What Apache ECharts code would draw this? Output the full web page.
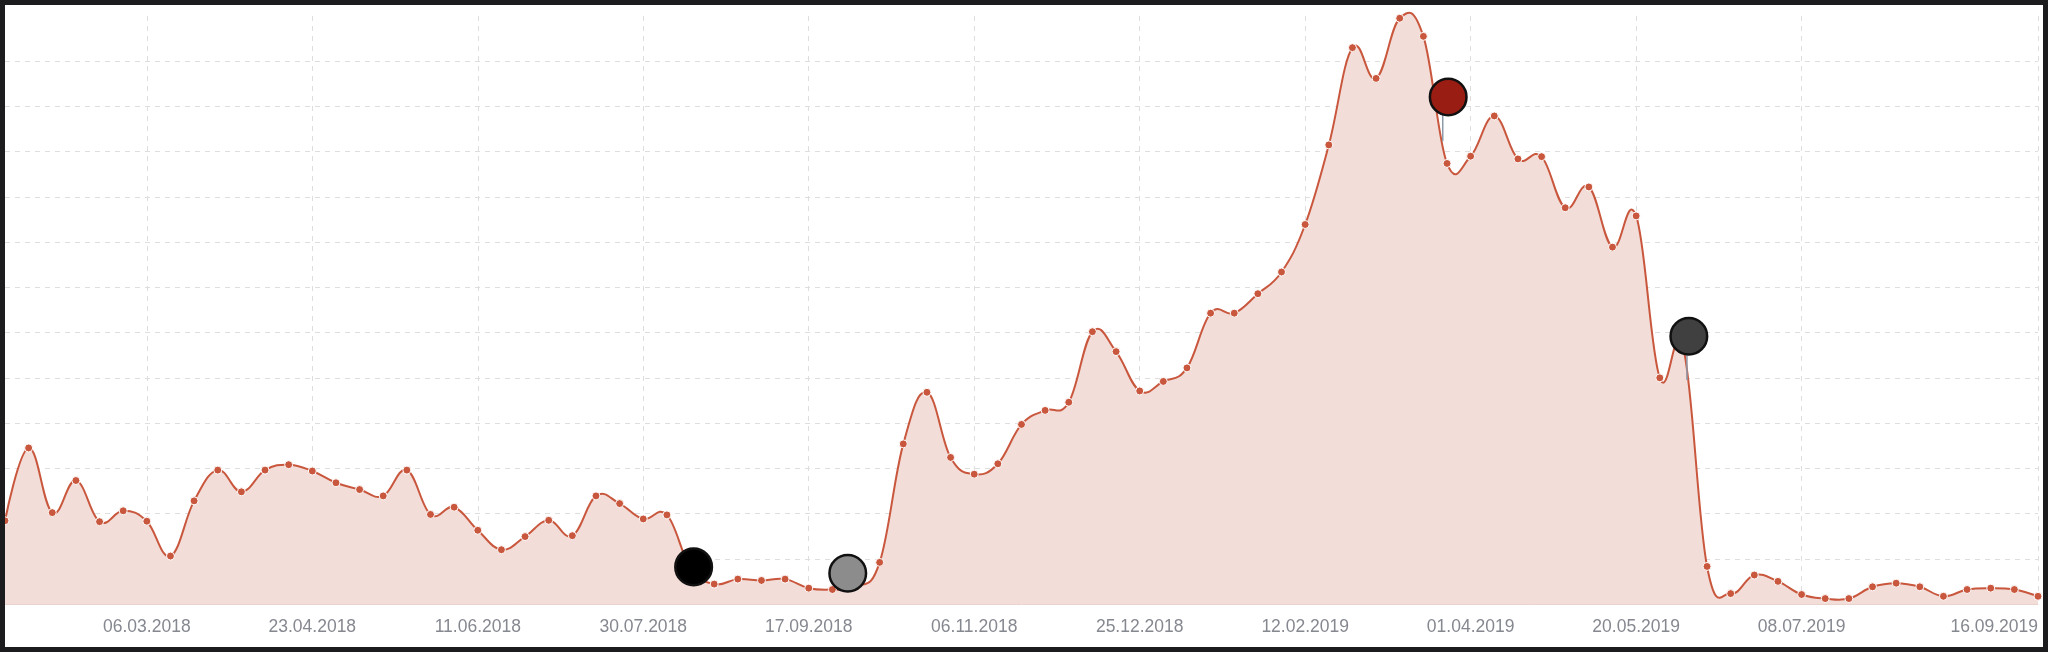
<!DOCTYPE html>
<html>
<head>
<meta charset="utf-8">
<script src="https://cdn.jsdelivr.net/npm/echarts@6/dist/echarts.min.js"></script>
<style>
html,body{margin:0;padding:0;background:#fff;}
#chart{width:2048px;height:652px;}
</style>
</head>
<body>
<div id="chart"></div>
<script>
// weekly values (arbitrary units, one per point)
const values = [
  1.84, 3.45, 2.02, 2.73, 1.82, 2.06, 1.83, 1.06, 2.28, 2.96,
  2.48, 2.96, 3.08, 2.94, 2.68, 2.53, 2.39, 2.96, 1.98, 2.14,
  1.63, 1.20, 1.49, 1.85, 1.51, 2.39, 2.22, 1.88, 1.97, 0.80,
  0.44, 0.55, 0.52, 0.55, 0.35, 0.32, 0.38, 0.92, 3.54, 4.68,
  3.24, 2.87, 3.10, 3.97, 4.28, 4.46, 6.02, 5.58, 4.71, 4.92,
  5.22, 6.43, 6.43, 6.86, 7.34, 8.39, 10.15, 12.30, 11.62, 12.95,
  12.55, 9.74, 9.90, 10.79, 9.84, 9.89, 8.76, 9.22, 7.89, 8.58,
  5.00, 5.65, 0.83, 0.23, 0.64, 0.50, 0.21, 0.12, 0.12, 0.38,
  0.46, 0.38, 0.17, 0.32, 0.35, 0.32, 0.17
];
// labelled points on the date axis
const tickIndex = [6, 13, 20, 27, 34, 41, 48, 55, 62, 69, 76, 86];
const tickLabels = ['06.03.2018','23.04.2018','11.06.2018','30.07.2018','17.09.2018','06.11.2018',
                    '25.12.2018','12.02.2019','01.04.2019','20.05.2019','08.07.2019','16.09.2019'];
// event markers (position in point index / value units)
const markerX = [29.13, 35.65, 61.05, 71.23];
const markerY = [0.82, 0.68, 11.21, 5.92];
const markerTipX = [null, null, 60.82, 71.15];
const markerTipY = [null, null, 10.23, 4.95];
const markerColors = ['#000000', '#8c8c8c', '#9a1d13', '#404040'];

const LINE = '#c9573d';
const AREA = '#f2ddd8';

const categories = values.map(function (v, i) {
  const k = tickIndex.indexOf(i);
  return k >= 0 ? tickLabels[k] : '';
});
const isTick = function (i) { return tickIndex.indexOf(i) >= 0; };
const markerData = markerX.map(function (x, i) { return [x, markerY[i]]; });

// spline path (cardinal style, smoothing 1.5 / 2.5) built from scaled points
function splinePath(pts) {
  const n = pts.length;
  const lc = [], rc = [];
  for (let i = 0; i < n; i++) {
    const p = pts[i];
    if (i > 0 && i < n - 1) {
      const a = pts[i - 1], b = pts[i + 1];
      const lx = (1.5 * p[0] + a[0]) / 2.5, ly = (1.5 * p[1] + a[1]) / 2.5;
      const rx = (1.5 * p[0] + b[0]) / 2.5, ry = (1.5 * p[1] + b[1]) / 2.5;
      const slope = (ry - ly) / (rx - lx);
      lc[i] = [lx, (lx - p[0]) * slope + p[1]];
      rc[i] = [rx, (rx - p[0]) * slope + p[1]];
    } else {
      lc[i] = p; rc[i] = p;
    }
  }
  let d = 'M' + pts[0][0] + ' ' + pts[0][1];
  for (let i = 1; i < n; i++) {
    d += ' C' + rc[i - 1][0] + ' ' + rc[i - 1][1] + ' ' + lc[i][0] + ' ' + lc[i][1] + ' ' + pts[i][0] + ' ' + pts[i][1];
  }
  return d;
}

const chart = echarts.init(document.getElementById('chart'));
chart.setOption({
  animation: false,
  backgroundColor: '#ffffff',
  grid: { left: 5, right: 10, top: 16, bottom: 48, containLabel: false },
  xAxis: [{
    type: 'category',
    data: categories,
    boundaryGap: false,
    axisLine: { show: true, lineStyle: { color: '#ead3cd', width: 1 } },
    axisTick: { show: false },
    axisLabel: {
      interval: function (i) { return isTick(i); },
      color: '#868890',
      fontSize: 17.5,
      fontFamily: 'Liberation Sans, Arial, sans-serif',
      margin: 14,
      alignMaxLabel: 'right'
    },
    splitLine: {
      show: true,
      interval: function (i) { return isTick(i); },
      lineStyle: { color: '#dedede', type: [5, 5], width: 1 }
    }
  }, {
    type: 'value', min: 0, max: values.length - 1, show: false
  }],
  yAxis: {
    type: 'value', min: 0, max: 13, interval: 1,
    axisLine: { show: false }, axisTick: { show: false }, axisLabel: { show: false },
    splitLine: {
      show: true, showMinLine: false, showMaxLine: false,
      lineStyle: { color: '#dedede', type: [5, 5], width: 1 }
    }
  },
  series: [{
    // smooth area + line
    type: 'custom',
    xAxisIndex: 1,
    yAxisIndex: 0,
    z: 2,
    clip: false,
    data: [[0, 0]],
    renderItem: function (params, api) {
      const pts = values.map(function (v, i) { return api.coord([i, v]); });
      const base = api.coord([0, 0])[1];
      const d = splinePath(pts);
      const areaD = d + ' L' + pts[pts.length - 1][0] + ' ' + base + ' L' + pts[0][0] + ' ' + base + ' Z';
      return {
        type: 'group',
        children: [{
          type: 'path',
          shape: { pathData: areaD },
          style: { fill: AREA, stroke: null }
        }, {
          type: 'path',
          shape: { pathData: d },
          style: { fill: null, stroke: LINE, lineWidth: 2 }
        }]
      };
    }
  }, {
    // data points
    type: 'line',
    data: values,
    symbol: 'circle',
    symbolSize: 8,
    showAllSymbol: true,
    lineStyle: { width: 0, opacity: 0 },
    itemStyle: { color: LINE, borderColor: '#ffffff', borderWidth: 1 },
    z: 3
  }, {
    type: 'custom',
    xAxisIndex: 1,
    yAxisIndex: 0,
    clip: false,
    z: 10,
    data: markerData,
    renderItem: function (params, api) {
      const i = params.dataIndex;
      const c = api.coord([api.value(0), api.value(1)]);
      const r = 19.5;
      const children = [];
      if (markerTipX[i] !== null) {
        const t = api.coord([markerTipX[i], markerTipY[i]]);
        children.push({
          type: 'line',
          shape: { x1: t[0], y1: c[1] + r - 2, x2: t[0], y2: t[1] },
          style: { stroke: '#8d9aa8', lineWidth: 1.5 }
        });
      }
      children.push({
        type: 'circle',
        shape: { cx: c[0], cy: c[1], r: r - 1.2 },
        style: { fill: markerColors[i], stroke: '#111111', lineWidth: 2.5 }
      });
      return { type: 'group', children: children };
    }
  }],
  graphic: [{
    type: 'rect',
    z: 100,
    shape: { x: 0, y: 0, width: 2048, height: 652 },
    style: { fill: 'none', stroke: '#1c1c1e', lineWidth: 10 }
  }]
});
</script>
</body>
</html>
